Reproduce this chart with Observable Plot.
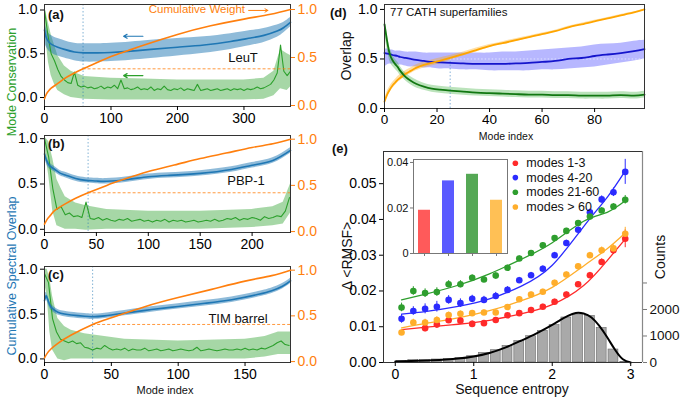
<!DOCTYPE html>
<html><head><meta charset="utf-8">
<script src="https://cdn.jsdelivr.net/npm/d3@7"></script>
<script src="https://cdn.jsdelivr.net/npm/@observablehq/plot@0.6"></script>
<style>
body{margin:0;background:#fff;}
#root{position:relative;width:680px;height:400px;overflow:hidden;font-family:"Liberation Sans",Arial,Helvetica,sans-serif;}
#root svg{position:absolute;left:0;top:0;}
#root .lbl{position:absolute;white-space:nowrap;line-height:1;}
</style></head><body><div id="root"></div><script>
// ---------------- DATA ----------------
// Panel (a) LeuT
const aGreen = [1.0,0.72,0.5,0.42,0.32,0.24,0.2,0.17,0.16,0.29,0.14,0.12,0.13,0.11,0.12,0.1,0.11,0.13,0.1,0.12,
 0.11,0.14,0.1,0.2,0.1,0.11,0.09,0.1,0.12,0.09,0.1,0.09,0.12,0.08,0.1,0.09,0.13,0.09,0.08,0.1,
 0.09,0.11,0.08,0.1,0.09,0.08,0.15,0.08,0.09,0.1,0.08,0.09,0.1,0.08,0.09,0.1,0.08,0.1,0.09,0.1,
 0.08,0.1,0.09,0.1,0.12,0.1,0.11,0.13,0.15,0.2,0.28,0.6,0.3,0.25,0.3];
const aGreenBandX = [0,3,6,10,15,20,30,40,60,100,150,200,250,300,330,345,355,365,370];
const aGreenHi = [1.05,0.95,0.85,0.72,0.6,0.48,0.36,0.3,0.24,0.22,0.21,0.2,0.2,0.2,0.22,0.3,0.55,0.5,0.48];
const aGreenLo = [0.85,0.6,0.4,0.25,0.15,0.08,0.03,0.0,-0.02,-0.03,-0.03,-0.03,-0.03,-0.03,-0.02,0.02,0.1,0.08,0.12];
const aBlueX = [0,2,5,10,20,30,45,60,80,100,130,160,200,240,280,310,330,350,360,370];
const aBlue = [0.77,0.7,0.65,0.61,0.575,0.55,0.52,0.51,0.51,0.515,0.53,0.55,0.575,0.6,0.64,0.68,0.71,0.76,0.8,0.86];
const aBlueErr = [0.12,0.11,0.1,0.1,0.1,0.1,0.1,0.105,0.105,0.105,0.105,0.105,0.1,0.095,0.09,0.085,0.08,0.07,0.06,0.055];
const aOrangeX = [0,3,6,10,20,30,40,58,80,100,125,150,200,250,300,340,370];
const aOrange = [0.07,0.12,0.15,0.18,0.23,0.28,0.32,0.382,0.45,0.51,0.57,0.63,0.74,0.83,0.9,0.95,1.0];

// Panel (b) PBP-1
const bGreen = [1.0,0.8,0.45,0.22,0.25,0.16,0.18,0.14,0.15,0.13,0.3,0.12,0.11,0.13,0.1,0.12,0.1,0.09,0.11,0.1,
 0.12,0.09,0.1,0.11,0.09,0.1,0.08,0.1,0.09,0.11,0.08,0.1,0.09,0.1,0.08,0.09,0.1,0.08,0.09,0.1,
 0.09,0.11,0.09,0.1,0.12,0.11,0.13,0.1,0.12,0.11,0.13,0.12,0.1,0.14,0.12,0.13,0.15,0.14,0.2,0.35];
const bGreenBandX = [0,4,8,12,16,20,30,40,60,100,150,200,220,230,237];
const bGreenHi = [1.02,0.97,0.78,0.55,0.45,0.36,0.29,0.26,0.22,0.2,0.2,0.22,0.25,0.3,0.5];
const bGreenLo = [0.9,0.6,0.2,0.04,0.02,0.0,0.0,-0.01,0.0,0.0,0.0,0.02,0.04,0.06,0.18];
const bBlueX = [0,2,5,10,15,20,30,40,50,60,80,100,120,150,180,200,220,237];
const bBlue = [0.83,0.76,0.7,0.66,0.62,0.6,0.56,0.54,0.533,0.53,0.55,0.58,0.595,0.617,0.66,0.707,0.76,0.87];
const bBlueErr = [0.04,0.04,0.035,0.03,0.03,0.03,0.03,0.03,0.03,0.03,0.03,0.03,0.03,0.03,0.03,0.03,0.03,0.03];
const bOrangeX = [0,3,6,10,20,30,42,60,75,100,125,150,175,200,220,237];
const bOrange = [0.08,0.14,0.18,0.23,0.3,0.36,0.42,0.5,0.56,0.65,0.72,0.79,0.85,0.91,0.95,1.0];

// Panel (c) TIM barrel
const cGreen = [0.95,0.85,0.45,0.3,0.22,0.2,0.18,0.2,0.17,0.18,0.13,0.12,0.1,0.12,0.11,0.15,0.12,0.1,0.11,0.1,
 0.12,0.09,0.11,0.1,0.1,0.12,0.09,0.1,0.11,0.09,0.1,0.11,0.09,0.1,0.11,0.1,0.09,0.1,0.13,0.09,
 0.1,0.11,0.1,0.09,0.1,0.11,0.1,0.1,0.11,0.1,0.12,0.1,0.11,0.1,0.12,0.11,0.13,0.15,0.18,0.2,0.16,0.15];
const cGreenBandX = [0,2,4,6,10,15,20,30,45,60,100,150,165,175,184];
const cGreenHi = [1.0,1.0,0.9,0.7,0.45,0.36,0.32,0.28,0.25,0.22,0.2,0.22,0.25,0.3,0.3];
const cGreenLo = [0.85,0.7,0.3,0.1,0.0,-0.02,0.0,0.0,0.0,0.0,0.0,0.0,0.02,0.05,0.05];
const cBlueX = [0,1,2,4,6,10,15,20,30,36,45,60,80,100,120,140,160,170,178,184];
const cBlue = [0.65,0.7,0.68,0.6,0.56,0.52,0.5,0.49,0.475,0.47,0.48,0.51,0.55,0.585,0.62,0.66,0.72,0.76,0.81,0.87];
const cBlueErr = [0.04,0.04,0.04,0.035,0.035,0.03,0.03,0.03,0.03,0.03,0.03,0.03,0.03,0.03,0.03,0.03,0.03,0.03,0.03,0.03];
const cOrangeX = [0,2,5,10,20,36,50,75,100,125,150,170,184];
const cOrange = [0.04,0.09,0.14,0.2,0.29,0.406,0.48,0.6,0.7,0.79,0.88,0.94,1.0];

const cutModes = [58, 42, 36];
const cutWeights = [0.382, 0.42, 0.406];

// Panel (d) 77 CATH superfamilies
const dX = [0,1,2,3,4,5,6,8,10,12,15,18,21,25,30,35,40,45,50,55,60,65,70,75,80,85,90,95,99];
const dBlue = [0.56,0.555,0.55,0.54,0.535,0.53,0.52,0.51,0.5,0.49,0.48,0.47,0.465,0.46,0.455,0.45,0.45,0.45,0.455,0.46,0.47,0.48,0.5,0.51,0.53,0.545,0.56,0.58,0.6];
const dBlueHi = [0.6,0.6,0.59,0.59,0.58,0.58,0.58,0.57,0.57,0.57,0.56,0.56,0.56,0.56,0.56,0.56,0.56,0.57,0.57,0.58,0.59,0.6,0.61,0.62,0.64,0.65,0.66,0.68,0.69];
const dBlueLo = [0.42,0.44,0.45,0.45,0.45,0.44,0.44,0.43,0.42,0.42,0.41,0.41,0.4,0.4,0.39,0.39,0.38,0.38,0.38,0.38,0.39,0.39,0.4,0.41,0.42,0.44,0.46,0.48,0.5];
const dOrange = [0.07,0.14,0.19,0.23,0.26,0.29,0.31,0.35,0.38,0.41,0.44,0.46,0.48,0.51,0.55,0.59,0.63,0.66,0.69,0.72,0.75,0.78,0.82,0.85,0.88,0.91,0.94,0.97,1.0];
const dOrangeErr = [0.02,0.03,0.03,0.03,0.03,0.03,0.03,0.03,0.03,0.03,0.03,0.03,0.03,0.025,0.02,0.02,0.015,0.015,0.015,0.012,0.012,0.01,0.01,0.01,0.01,0.008,0.008,0.006,0.005];
const dGreen = [0.85,0.68,0.55,0.49,0.45,0.42,0.38,0.32,0.28,0.25,0.22,0.2,0.19,0.18,0.17,0.16,0.155,0.15,0.145,0.14,0.14,0.135,0.135,0.13,0.13,0.13,0.135,0.13,0.14];
const dGreenErr = [0.1,0.08,0.07,0.06,0.05,0.05,0.045,0.04,0.04,0.04,0.035,0.035,0.035,0.035,0.035,0.035,0.035,0.035,0.035,0.035,0.035,0.035,0.035,0.035,0.035,0.035,0.035,0.035,0.035];
const dCut = 25, dCutLevel = 0.5;

// Panel (e)
const groups = ["modes 1-3","modes 4-20","modes 21-60","modes > 60"];
const groupColors = ["#ff2a2a","#2b2bff","#2e9e2e","#ffae2b"];
const barColors = ["#ff5a5a","#5a5aff","#55a855","#ffc055"];
const insetValues = [0.019, 0.0319, 0.0348, 0.0234];
const eX = [0.08,0.23,0.38,0.53,0.68,0.83,0.98,1.13,1.28,1.43,1.58,1.73,1.88,2.03,2.18,2.33,2.48,2.63,2.78,2.93];
const eRed = [null,null,0.0096,0.0106,0.0118,0.0117,0.0108,0.011,0.0119,0.0132,0.0138,0.0147,0.0156,0.017,0.019,0.0219,0.0244,0.0281,0.0314,0.0346];
const eRedErr = [0,0,0.001,0.0009,0.0008,0.0008,0.0008,0.0007,0.0007,0.0007,0.0007,0.0007,0.0007,0.0007,0.0007,0.0007,0.0008,0.0009,0.0012,0.0025];
const eBlue = [0.0122,0.0144,0.015,0.0156,0.0175,0.0166,0.0178,0.0175,0.0186,0.0203,0.023,0.0244,0.0262,0.030,0.0334,0.0371,0.042,0.0456,0.0476,0.0533];
const eBlueErr = [0.0012,0.0012,0.0014,0.0015,0.0012,0.0012,0.001,0.001,0.001,0.0009,0.0008,0.0008,0.0008,0.0008,0.0008,0.0008,0.0009,0.001,0.0012,0.0035];
const eGreen = [0.0154,0.0200,0.0194,0.0197,0.0219,0.0219,0.0237,0.0232,0.0243,0.0265,0.0291,0.0306,0.0328,0.0348,0.0368,0.0390,0.0408,0.0425,0.0436,0.0455];
const eGreenErr = [0.0012,0.0012,0.0012,0.0012,0.001,0.001,0.0008,0.0008,0.0008,0.0007,0.0007,0.0007,0.0007,0.0007,0.0007,0.0007,0.0007,0.0008,0.0008,0.0012];
const eOrange = [0.0084,0.0112,0.0112,0.0119,0.0133,0.0136,0.0138,0.014,0.014,0.0155,0.0177,0.019,0.0198,0.0223,0.0246,0.0269,0.030,0.0314,0.0319,0.036];
const eOrangeErr = [0.0008,0.0009,0.0009,0.0009,0.0008,0.0008,0.0007,0.0007,0.0007,0.0007,0.0007,0.0007,0.0007,0.0007,0.0007,0.0007,0.0008,0.0009,0.001,0.0018];
const fitX = [0.08,0.4,0.8,1.2,1.6,2.0,2.4,2.7,2.93];
const fitRed = [0.0092,0.0099,0.0107,0.0118,0.0136,0.0162,0.0215,0.0285,0.0345];
const fitBlue = [0.0135,0.0143,0.0157,0.0178,0.0213,0.0272,0.038,0.0462,0.0536];
const fitGreen = [0.0175,0.0192,0.0216,0.0248,0.0288,0.0335,0.0395,0.042,0.0452];
const fitOrange = [0.0097,0.011,0.0125,0.0145,0.0172,0.021,0.027,0.0318,0.0362];
const histCounts = [60,87,87,113,136,174,238,362,464,627,804,992,1193,1408,1698,1811,1760,1306,490,20];
const kdeX = [0,0.2,0.4,0.6,0.8,1.0,1.2,1.4,1.6,1.8,2.0,2.1,2.2,2.3,2.4,2.5,2.6,2.7,2.8,2.9,3.0];
const kdeY = [40,55,75,100,150,230,360,560,820,1100,1420,1600,1760,1870,1850,1700,1380,950,480,120,0];
// legend anchor (data units of panel e)
const legendX = 1.53, legendY = [0.0557, 0.0517, 0.0476, 0.0435];

// ---------------- HELPERS ----------------
const W = 680, H = 400;
const FONT = '"Liberation Sans", Arial, Helvetica, sans-serif';
const C_BLUE = "#1f77b4", C_GREEN = "#2ca02c", C_ORANGE = "#ff7f0e";
const root = document.getElementById("root");
function layer([x0, x1, y0, y1], opts) {
  const svg = Plot.plot({
    width: W, height: H,
    marginLeft: x0, marginRight: W - x1, marginTop: y0, marginBottom: H - y1,
    style: {background: "none", fontFamily: FONT, fontSize: "13px", overflow: "visible"},
    ...opts
  });
  root.appendChild(svg);
}
function label(txt, x, y, o = {}) {
  const d = document.createElement("div");
  d.className = "lbl";
  d.textContent = txt;
  d.style.left = x + "px"; d.style.top = y + "px";
  d.style.fontSize = (o.size || 13) + "px";
  d.style.color = o.color || "#111";
  d.style.fontWeight = o.weight || "normal";
  const tx = o.anchor === "start" ? "0" : o.anchor === "end" ? "-100%" : "-50%";
  d.style.transformOrigin = "0 0";
  d.style.transform = (o.rotate ? `rotate(${o.rotate}deg) ` : "") + `translate(${tx},-50%)`;
  root.appendChild(d);
}
const zip = (xs, ys, extra = {}) => xs.map((x, i) => {
  const r = {x, y: ys[i]};
  for (const k in extra) r[k] = extra[k][i];
  return r;
});
const TF = 14; // tick font size

// ---------------- PANELS a, b, c ----------------
const abc = [
  {rect: [44, 290, 4, 106], xDom: [0, 370], yL: [-0.103, 1.063], yR: [-0.0104, 1.052], xt: [0, 100, 200, 300],
   gx: d3.range(0, 371, 5), g: aGreen, band: zip(aGreenBandX, aGreenHi, {lo: aGreenLo}),
   blue: zip(aBlueX, aBlue, {e: aBlueErr}), orange: zip(aOrangeX, aOrange)},
  {rect: [44, 290, 135, 232], xDom: [0, 237], yL: [-0.035, 1.035], yR: [-0.01, 1.04], xt: [0, 50, 100, 150, 200],
   gx: d3.range(0, 237, 4), g: bGreen, band: zip(bGreenBandX, bGreenHi, {lo: bGreenLo}),
   blue: zip(bBlueX, bBlue, {e: bBlueErr}), orange: zip(bOrangeX, bOrange)},
  {rect: [44, 290, 266, 362], xDom: [0, 184], yL: [-0.04, 1.03], yR: [-0.01, 1.04], xt: [0, 50, 100, 150],
   gx: d3.range(0, 184, 3), g: cGreen, band: zip(cGreenBandX, cGreenHi, {lo: cGreenLo}),
   blue: zip(cBlueX, cBlue, {e: cBlueErr}), orange: zip(cOrangeX, cOrange)}
];
abc.forEach((p, i) => {
  const green = p.gx.map((x, j) => ({x, y: p.g[j]}));
  const extraL = i === 0 ? [
    Plot.arrow([{x1: 148, x2: 119, y: 0.70}], {x1: "x1", x2: "x2", y1: "y", y2: "y", stroke: C_BLUE, strokeWidth: 1.2, headLength: 5}),
    Plot.arrow([{x1: 148, x2: 119, y: 0.25}], {x1: "x1", x2: "x2", y1: "y", y2: "y", stroke: C_GREEN, strokeWidth: 1.2, headLength: 5})
  ] : [];
  layer(p.rect, {
    x: {domain: p.xDom, axis: null}, y: {domain: p.yL, axis: null},
    marks: [
      Plot.areaY(p.band, {x: "x", y1: "lo", y2: "y", fill: C_GREEN, fillOpacity: 0.42, clip: true}),
      Plot.areaY(p.blue, {x: "x", y1: d => d.y - d.e, y2: d => d.y + d.e, fill: C_BLUE, fillOpacity: 0.5, curve: "natural", clip: true}),
      Plot.ruleX([cutModes[i]], {stroke: C_BLUE, strokeOpacity: 0.7, strokeWidth: 0.8, strokeDasharray: "1.5,2"}),
      Plot.line(green, {x: "x", y: "y", stroke: C_GREEN, strokeWidth: 1.1, clip: true}),
      Plot.line(p.blue, {x: "x", y: "y", stroke: C_BLUE, strokeWidth: 1.6, curve: "natural"}),
      ...extraL,
      Plot.frame({stroke: "#333"}),
      Plot.axisX({ticks: p.xt, tickSize: 4, tickPadding: 3, fontSize: TF, label: null}),
      Plot.axisY({ticks: [0, 0.5, 1], tickFormat: ".1f", tickSize: 4, tickPadding: 3, fontSize: TF, label: null})
    ]
  });
  const extraR = i === 0 ? [
    Plot.arrow([{x1: 307, x2: 336, y: 0.99}], {x1: "x1", x2: "x2", y1: "y", y2: "y", stroke: C_ORANGE, strokeWidth: 1, headLength: 5})
  ] : [];
  layer(p.rect, {
    x: {domain: p.xDom, axis: null}, y: {domain: p.yR, axis: null},
    marks: [
      Plot.line(p.orange, {x: "x", y: "y", stroke: C_ORANGE, strokeWidth: 1.6, curve: "natural"}),
      Plot.ruleY([cutWeights[i]], {x1: cutModes[i], x2: p.xDom[1], stroke: C_ORANGE, strokeWidth: 0.8, strokeDasharray: "3,2"}),
      ...extraR,
      Plot.axisY({anchor: "right", ticks: [0, 0.5, 1], tickFormat: ".1f", tickSize: 4, tickPadding: 3, fontSize: TF, color: C_ORANGE, label: null})
    ]
  });
});

// ---------------- PANEL d ----------------
const dData = dX.map((x, i) => ({x, b: dBlue[i], bh: dBlueHi[i], bl: dBlueLo[i], o: dOrange[i], oe: dOrangeErr[i], g: dGreen[i], ge: dGreenErr[i]}));
layer([384, 644, 4, 108], {
  x: {domain: [0, 99], axis: null}, y: {domain: [0, 1.05], axis: null},
  marks: [
    Plot.areaY(dData, {x: "x", y1: "bl", y2: "bh", fill: "#6f6fff", fillOpacity: 0.5, curve: "natural"}),
    Plot.areaY(dData, {x: "x", y1: d => d.o - d.oe, y2: d => d.o + d.oe, fill: "#ffa500", fillOpacity: 0.35, curve: "natural"}),
    Plot.areaY(dData, {x: "x", y1: d => d.g - d.ge, y2: d => d.g + d.ge, fill: "#3cb03c", fillOpacity: 0.35, curve: "natural"}),
    Plot.ruleX([dCut], {y1: 0, y2: dCutLevel, stroke: "#6a9fd0", strokeWidth: 0.8, strokeDasharray: "1.5,2"}),
    Plot.ruleY([dCutLevel], {x1: dCut, x2: 99, stroke: "#e8ecff", strokeWidth: 0.8, strokeDasharray: "1.5,2"}),
    Plot.line(dData, {x: "x", y: "b", stroke: "#1515cc", strokeWidth: 1.8, curve: "natural"}),
    Plot.line(dData, {x: "x", y: "o", stroke: "#ffa500", strokeWidth: 1.8, curve: "natural"}),
    Plot.line(dData, {x: "x", y: "g", stroke: "#117711", strokeWidth: 1.8, curve: "natural"}),
    Plot.frame({stroke: "#333"}),
    Plot.axisX({ticks: [0, 20, 40, 60, 80], tickSize: 4, tickPadding: 2, fontSize: 13.5, label: null}),
    Plot.axisY({ticks: [0, 0.5, 1], tickFormat: ".1f", tickSize: 4, tickPadding: 3, fontSize: TF, label: null})
  ]
});

// ---------------- PANEL e ----------------
const eRect = [383, 642, 151, 362];
const eXDom = [-0.15, 3.15];
const hist = eX.map((x, i) => ({x, c: histCounts[i]}));
const kde = zip(kdeX, kdeY);
layer(eRect, {
  x: {domain: eXDom, axis: null}, y: {domain: [0, 7960], axis: null},
  marks: [
    Plot.rectY(hist, {x1: d => d.x - 0.063, x2: d => d.x + 0.063, y: "c", fill: "#a9a9a9", stroke: "#6a6a6a", strokeWidth: 0.6}),
    Plot.line(kde, {x: "x", y: "y", stroke: "#000", strokeWidth: 2, curve: "natural"}),
    Plot.ruleX([eXDom[1]], {stroke: "#888", strokeWidth: 1.2}),
    Plot.axisY({anchor: "right", ticks: [0, 1000, 2000, 3000], tickFormat: d => d < 3000 ? String(d) : "", tickSize: 4, tickPadding: 3, fontSize: 13.5, stroke: "#777", fill: "#111", label: null})
  ]
});
const series = [
  {vals: eRed, err: eRedErr, fit: fitRed},
  {vals: eBlue, err: eBlueErr, fit: fitBlue},
  {vals: eGreen, err: eGreenErr, fit: fitGreen},
  {vals: eOrange, err: eOrangeErr, fit: fitOrange}
];
const pts = [], fits = [];
series.forEach((s, k) => {
  eX.forEach((x, i) => { if (s.vals[i] != null) pts.push({x, y: s.vals[i], e: s.err[i], g: groups[k]}); });
  fitX.forEach((x, i) => fits.push({x, y: s.fit[i], g: groups[k]}));
});
const legend = groups.map((g, k) => ({g, y: legendY[k]}));
const colorScale = {domain: groups, range: groupColors};
layer(eRect, {
  x: {domain: eXDom, axis: null}, y: {domain: [0, 0.059], axis: null}, color: colorScale,
  marks: [
    Plot.line(fits, {x: "x", y: "y", z: "g", stroke: "g", strokeWidth: 1.3, curve: "natural"}),
    Plot.ruleX(pts, {x: "x", y1: d => d.y - d.e, y2: d => d.y + d.e, stroke: "g", strokeWidth: 1}),
    Plot.dot(pts, {x: "x", y: "y", fill: "g", r: 3.3}),
    Plot.ruleY([0.059], {stroke: "#333"}),
    Plot.ruleY([0], {stroke: "#333"}),
    Plot.ruleX([eXDom[0]], {stroke: "#333"}),
    Plot.dot(legend, {x: legendX, y: "y", fill: "g", r: 2.8}),
    Plot.text(legend, {x: legendX, y: "y", dx: 11, text: "g", textAnchor: "start", fontSize: 12.5, fill: "#111"}),
    Plot.axisX({ticks: [0, 1, 2, 3], tickFormat: "d", tickSize: 4, tickPadding: 3, fontSize: TF, label: null}),
    Plot.axisY({ticks: [0, 0.01, 0.02, 0.03, 0.04, 0.05], tickFormat: ".2f", tickSize: 4, tickPadding: 3, fontSize: TF, label: null})
  ]
});
const inset = groups.map((g, k) => ({g, v: insetValues[k]}));
layer([413, 507, 159, 253], {
  x: {domain: groups, axis: null, paddingInner: 0.5, paddingOuter: 0.19},
  y: {domain: [0, 0.0413], axis: null},
  color: {domain: groups, range: barColors},
  marks: [
    Plot.frame({fill: "white", stroke: "#777"}),
    Plot.barY(inset, {x: "g", y: "v", fill: "g"}),
    Plot.frame({stroke: "#777"}),
    Plot.axisX({tickSize: 3, tickFormat: () => "", stroke: "#777", label: null}),
    Plot.axisY({ticks: [0, 0.02, 0.04], tickFormat: d => d === 0 ? "0" : d.toFixed(2), tickSize: 3, tickPadding: 2, fontSize: 11, stroke: "#777", fill: "#111", label: null})
  ]
});

// ---------------- TEXT LABELS ----------------
label("(a)", 48, 14, {anchor: "start", weight: "bold", size: 13});
label("(b)", 48, 143, {anchor: "start", weight: "bold", size: 13});
label("(c)", 48, 274, {anchor: "start", weight: "bold", size: 13});
label("(d)", 330, 12, {anchor: "start", weight: "bold", size: 13});
label("(e)", 332, 148, {anchor: "start", weight: "bold", size: 13});
label("LeuT", 243, 57, {size: 13});
label("PBP-1", 246, 180, {size: 13});
label("TIM barrel", 238, 318, {size: 13});
label("Cumulative Weight", 245, 10, {anchor: "end", size: 11.5, color: C_ORANGE});
label("Mode Conservation", 12, 82, {rotate: -90, size: 12.5, color: C_GREEN});
label("Cumulative Spectral Overlap", 12, 276, {rotate: -90, size: 12.5, color: C_BLUE});
label("Mode index", 165, 390, {size: 11});
label("77 CATH superfamilies", 390, 13, {anchor: "start", size: 11.5});
label("Overlap", 346, 56, {rotate: -90, size: 14});
label("Mode index", 506, 136, {size: 10.5});
label("Δ <RMSF>", 347, 256, {rotate: -90, size: 14});
label("Sequence entropy", 512, 389, {size: 14});
label("Counts", 660, 257, {rotate: -90, size: 14});
</script></body></html>
